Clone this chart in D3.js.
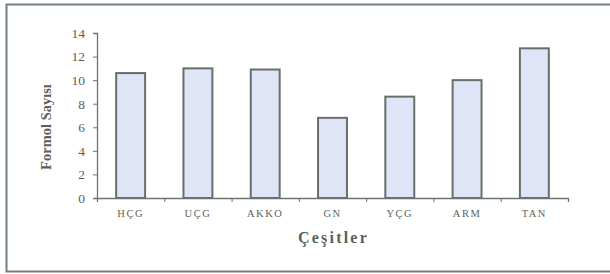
<!DOCTYPE html>
<html><head><meta charset="utf-8">
<script src="https://cdn.jsdelivr.net/npm/d3@7"></script>
<style>body{margin:0;background:#fff}svg{display:block}</style>
</head><body>
<svg id="c" width="610" height="274"></svg>
<script>
const categories = ["HÇG","UÇG","AKKO","GN","YÇG","ARM","TAN"];
const values = [10.6, 11.0, 10.9, 6.8, 8.6, 10.0, 12.7];
const yTicks = [0,2,4,6,8,10,12,14];
const yLabel = "Formol Sayısı";
const xLabel = "Çeşitler";

const svg = d3.select("#c");
const serif = "Liberation Serif, Times New Roman, DejaVu Serif, serif";
const textCol = "#5a5f5c";

svg.append("rect").attr("x",6.5).attr("y",4.5).attr("width",640).attr("height",267)
  .attr("fill","none").attr("stroke","#6f8078").attr("stroke-width",2);

const m = {l:97, r:568, t:33, b:198};
const x = d3.scaleBand().domain(categories).range([m.l,m.r]).paddingInner(0.57).paddingOuter(0.285);
const y = d3.scaleLinear().domain([0,14]).range([m.b,m.t]);

svg.append("g").selectAll("rect").data(values).join("rect")
  .attr("x",(d,i)=>x(categories[i])).attr("width",x.bandwidth())
  .attr("y",d=>y(d)).attr("height",d=>y(0)-y(d))
  .attr("fill","#dfe4f6").attr("stroke","#66706b").attr("stroke-width",2);

const ya = svg.append("g").attr("transform",`translate(${m.l},0)`)
  .attr("font-family",serif)
  .call(d3.axisLeft(y).tickValues(yTicks).tickSize(4).tickPadding(8));
ya.attr("font-family",serif);
ya.select(".domain").attr("stroke","#6b7570").attr("stroke-width",1.3);
ya.selectAll(".tick line").attr("stroke","#6b7570");
ya.selectAll("text").style("font-family",serif).attr("font-size",13.5).attr("fill",textCol);

const xs = d3.scaleLinear().domain([0,categories.length]).range([m.l,m.r]);
const xa = svg.append("g").attr("transform",`translate(0,${m.b})`)
  .call(d3.axisBottom(xs).tickValues(d3.range(0,categories.length+1)).tickSize(4).tickFormat(""));
xa.select(".domain").attr("stroke","#6b7570").attr("stroke-width",1.3);
xa.selectAll(".tick line").attr("stroke","#6b7570");

svg.append("g").selectAll("text").data(categories).join("text")
  .attr("x",d=>x(d)+x.bandwidth()/2).attr("y",217)
  .attr("text-anchor","middle").style("font-family",serif).attr("font-size",10.5)
  .attr("letter-spacing",1.5).attr("fill",textCol).text(d=>d);

svg.append("text").attr("x",(m.l+m.r)/2+1).attr("y",243).attr("text-anchor","middle")
  .style("font-family",serif).attr("font-weight","bold").attr("font-size",16)
  .attr("letter-spacing",2.2).attr("fill",textCol).text(xLabel);

svg.append("text").attr("transform","translate(51,127) rotate(-90)").attr("text-anchor","middle")
  .style("font-family",serif).attr("font-weight","bold").attr("font-size",14.5)
  .attr("fill",textCol).text(yLabel);
</script>
</body></html>
